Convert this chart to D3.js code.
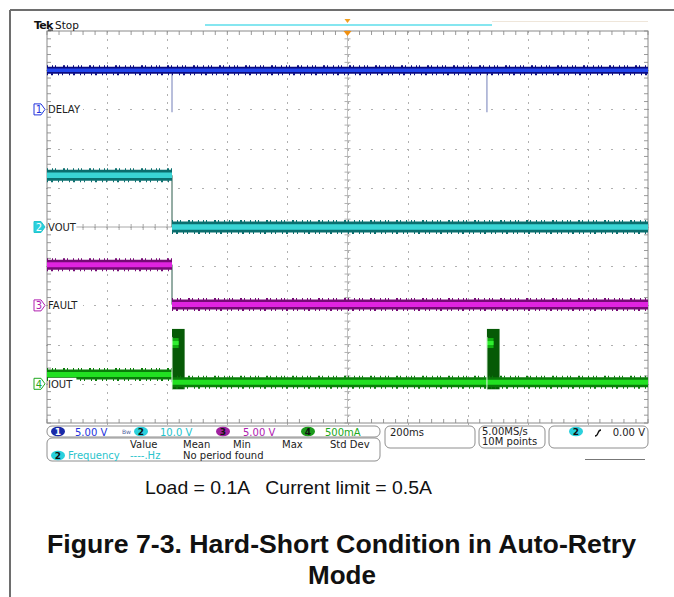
<!DOCTYPE html>
<html>
<head>
<meta charset="utf-8">
<script src="https://cdn.jsdelivr.net/npm/d3@7/dist/d3.min.js"></script>
<style>
  html, body { margin: 0; padding: 0; background: #fff; }
  svg { display: block; }
</style>
</head>
<body>
<svg id="chart" width="674" height="597"></svg>
<script>
// ---- Channel setup (Tek scope capture, 200 ms/div, 10 divisions) ----
const channelNames = ["DELAY", "VOUT", "FAULT", "IOUT"];
const channelIds = ["1", "2", "3", "4"];
const scaleLabels = ["5.00 V", "10.0 V", "5.00 V", "500mA"];
const unitsPerDiv = [5, 10, 5, 0.5];          // V/div, V/div, V/div, A/div
const refDivs = [3, 0, -2, -4];               // ground marker position in divisions from centre

// ---- Trace values (time in s, trigger at 0) ----
const delayTimes = [-1, 1];
const delayValues = [5.0, 5.0];
const delayGlitchTimes = [-0.584, 0.464];
const delayGlitchMin = -0.35;

const voutTimes = [-1, -0.584, -0.584, 1];
const voutValues = [13.2, 13.2, 0.0, 0.0];

const faultTimes = [-1, -0.584, -0.584, 1];
const faultValues = [5.2, 5.2, 0.1, 0.1];

const ioutTimes = [-1, -0.584, -0.584, 1];
const ioutValues = [0.12, 0.12, 0.02, 0.02];

// auto-retry current pulses
const retryStarts = [-0.584, 0.464];
const retryEnds = [-0.542, 0.506];
const retryPeak = 0.70;
const retryMin = -0.07;
const retryLimit = 0.52;

// ---- Readout texts ----
const measureHeaders = ["Value", "Mean", "Min", "Max", "Std Dev"];
const timebaseLabel = "200ms";
const sampleLabels = ["5.00MS/s", "10M points"];
const triggerLevel = "0.00 V";
const noteText = "Load = 0.1A   Current limit = 0.5A";
const titleLines = ["Figure 7-3. Hard-Short Condition in Auto-Retry", "Mode"];

const colors = {
  dark: ["#0a0a80", "#0a6e6e", "#760a76", "#0a7c0a"],
  bright: ["#2246ec", "#3ad4d4", "#e024e0", "#22e022"],
  label: ["#2233dd", "#22c4cc", "#b020b0", "#20a820"],
  pill: ["#1a2aa8", "#2ad0dc", "#a020a0", "#1c9a1c"]
};

const svg = d3.select("#chart");
svg.append("rect").attr("width", 674).attr("height", 597).attr("fill", "#fff");

// page frame lines
svg.append("line").attr("x1", 10).attr("x2", 674).attr("y1", 10).attr("y2", 10)
  .attr("stroke", "#6e6e6e").attr("stroke-width", 2);
svg.append("line").attr("x1", 10).attr("x2", 10).attr("y1", 10).attr("y2", 597)
  .attr("stroke", "#6e6e6e").attr("stroke-width", 2);

// ---- Scales ----
const gL = 47, gR = 648, gT = 31, gB = 423;
const x = d3.scaleLinear().domain([-1, 1]).range([gL, gR]);
const yDiv = d3.scaleLinear().domain([-5, 5]).range([gB, gT]);
const yCh = i => v => yDiv(refDivs[i] + v / unitsPerDiv[i]);

// ---- Graticule ----
const grid = svg.append("g");
const gridColor = "#b0b0b0";
const majorT = d3.range(-1, 1.0001, 0.2);
const minorT = d3.range(-1, 1.0001, 0.04);
const majorD = d3.range(-5, 5.0001, 1);
const minorD = d3.range(-5, 5.0001, 0.2);

// dotted grid: dots at each minor subdivision along every major line
majorT.slice(1, -1).forEach(t => {
  minorD.forEach(d => {
    grid.append("rect").attr("x", Math.round(x(t))).attr("y", Math.round(yDiv(d)))
      .attr("width", 1).attr("height", 2).attr("fill", gridColor);
  });
});
majorD.slice(1, -1).forEach(d => {
  minorT.forEach(t => {
    grid.append("rect").attr("x", Math.round(x(t)) - 1).attr("y", Math.round(yDiv(d)))
      .attr("width", 2).attr("height", 1).attr("fill", gridColor);
  });
});

// centre crosshair with minor ticks
grid.append("line").attr("x1", gL).attr("x2", gR).attr("y1", yDiv(0)).attr("y2", yDiv(0))
  .attr("stroke", "#a8a8a8").attr("stroke-width", 1);
grid.append("line").attr("x1", x(0)).attr("x2", x(0)).attr("y1", gT).attr("y2", gB)
  .attr("stroke", "#c4c4c4").attr("stroke-width", 1);
minorT.forEach(t => grid.append("line").attr("x1", x(t)).attr("x2", x(t))
  .attr("y1", yDiv(0) - 3).attr("y2", yDiv(0) + 3).attr("stroke", "#a8a8a8"));
minorD.forEach(d => grid.append("line").attr("x1", x(0) - 3).attr("x2", x(0) + 3)
  .attr("y1", yDiv(d)).attr("y2", yDiv(d)).attr("stroke", "#b0b0b0"));

// edge ticks
minorT.forEach(t => {
  grid.append("line").attr("x1", x(t)).attr("x2", x(t)).attr("y1", gT).attr("y2", gT + 4).attr("stroke", "#9a9a9a");
  grid.append("line").attr("x1", x(t)).attr("x2", x(t)).attr("y1", gB - 4).attr("y2", gB).attr("stroke", "#9a9a9a");
});
minorD.forEach(d => {
  grid.append("line").attr("x1", gL).attr("x2", gL + 4).attr("y1", yDiv(d)).attr("y2", yDiv(d)).attr("stroke", "#9a9a9a");
  grid.append("line").attr("x1", gR - 4).attr("x2", gR).attr("y1", yDiv(d)).attr("y2", yDiv(d)).attr("stroke", "#9a9a9a");
});
grid.append("rect").attr("x", gL).attr("y", gT).attr("width", gR - gL).attr("height", gB - gT)
  .attr("fill", "none").attr("stroke", "#8a8a8a").attr("stroke-width", 1);

// ---- Header ----
svg.append("text").attr("x", 34).attr("y", 29).attr("font-family", "DejaVu Sans").attr("font-weight", "bold")
  .attr("font-size", 11).attr("letter-spacing", -0.8).attr("fill", "#111").text("Tek");
svg.append("line").attr("x1", 48).attr("x2", 53).attr("y1", 30).attr("y2", 30).attr("stroke", "#111");
svg.append("text").attr("x", 55).attr("y", 29).attr("font-family", "DejaVu Sans")
  .attr("font-size", 10.5).attr("fill", "#111").text("Stop");
svg.append("line").attr("x1", 205).attr("x2", 492).attr("y1", 25).attr("y2", 25)
  .attr("stroke", "#86e6f0").attr("stroke-width", 2);
svg.append("line").attr("x1", 492).attr("x2", 648).attr("y1", 21.5).attr("y2", 21.5)
  .attr("stroke", "#efe6da").attr("stroke-width", 1);
svg.append("path").attr("d", `M${x(0) - 3},19 h6 l-3,4 Z`).attr("fill", "#f0a020");
svg.append("path").attr("d", `M${x(0) - 4},${gT} h8 l-4,5 Z`).attr("fill", "#f09010");

// ---- Traces ----
const traces = svg.append("g");

function drawBand(i, t0, t1, v, width) {
  const y = yCh(i)(v);
  const g = traces.append("g");
  g.append("line").attr("x1", x(t0)).attr("x2", x(t1)).attr("y1", y).attr("y2", y)
    .attr("stroke", colors.dark[i]).attr("stroke-width", width);
  g.append("line").attr("x1", x(t0)).attr("x2", x(t1)).attr("y1", y).attr("y2", y)
    .attr("stroke", colors.bright[i]).attr("stroke-width", width * 0.5);
  // noise fringe along both edges
  [-1, 1].forEach(s => {
    g.append("line").attr("x1", x(t0)).attr("x2", x(t1))
      .attr("y1", y + s * (width / 2 + 0.5)).attr("y2", y + s * (width / 2 + 0.5))
      .attr("stroke", colors.dark[i]).attr("stroke-width", 2)
      .attr("stroke-dasharray", s < 0 ? "1,4,1,2,1,7,2,2,1,5" : "1,3,2,5,1,3,1,6");
  });
}

function drawStepTrace(i, times, values, width) {
  const yc = yCh(i);
  for (let k = 0; k < times.length - 1; k++) {
    if (times[k] === times[k + 1]) {
      traces.append("line").attr("x1", x(times[k])).attr("x2", x(times[k]))
        .attr("y1", yc(values[k])).attr("y2", yc(values[k + 1]))
        .attr("stroke", "#2a5a4a").attr("stroke-width", 1);
    }
  }
  for (let k = 0; k < times.length - 1; k++) {
    if (times[k] !== times[k + 1]) drawBand(i, times[k], times[k + 1], values[k], width);
  }
}

// CH1 glitches
delayGlitchTimes.forEach(t => {
  traces.append("line").attr("x1", x(t)).attr("x2", x(t))
    .attr("y1", yCh(0)(delayValues[0])).attr("y2", yCh(0)(delayGlitchMin))
    .attr("stroke", "#8a94c4").attr("stroke-width", 1.2);
});
drawStepTrace(0, delayTimes, delayValues, 7);
drawStepTrace(1, voutTimes, voutValues, 11);
drawStepTrace(2, faultTimes, faultValues, 10);

// CH4 retry pulses
retryStarts.forEach((t0, k) => {
  const yc = yCh(3);
  traces.append("rect").attr("x", x(t0)).attr("y", yc(retryPeak))
    .attr("width", x(retryEnds[k]) - x(t0)).attr("height", yc(retryMin) - yc(retryPeak))
    .attr("fill", "#065a06");
});
drawStepTrace(3, ioutTimes, ioutValues, 10);
retryStarts.forEach((t0, k) => {
  const yc = yCh(3);
  traces.append("line").attr("x1", x(t0)).attr("x2", x(retryEnds[k]) - 6)
    .attr("y1", yc(retryLimit)).attr("y2", yc(retryLimit))
    .attr("stroke", "#10b010").attr("stroke-width", 10);
  traces.append("line").attr("x1", x(t0)).attr("x2", x(retryEnds[k]) - 6)
    .attr("y1", yc(retryLimit)).attr("y2", yc(retryLimit))
    .attr("stroke", "#30ee30").attr("stroke-width", 4);
  traces.append("line").attr("x1", x(t0)).attr("x2", x(t0))
    .attr("y1", yc(retryPeak) + 8).attr("y2", yc(retryMin))
    .attr("stroke", "#e8f8e8").attr("stroke-width", 1);
});

// ---- Channel ground markers and names ----
const markers = svg.append("g");
channelNames.forEach((name, i) => {
  const y = yDiv(refDivs[i]);
  const filled = i === 1;
  markers.append("path").attr("d", `M34,${y - 5.5} h7 l4,5.5 l-4,5.5 h-7 Z`)
    .attr("fill", filled ? colors.pill[1] : "#fff").attr("stroke", colors.label[i]).attr("stroke-width", 1);
  markers.append("text").attr("x", 39).attr("y", y + 4).attr("text-anchor", "middle")
    .attr("font-family", "DejaVu Sans").attr("font-size", 10)
    .attr("fill", filled ? "#fff" : colors.label[i]).text(channelIds[i]);
  markers.append("rect").attr("x", 48).attr("y", y - 6).attr("width", name.length * 6.6 + 2).attr("height", 12).attr("fill", "#fff");
  markers.append("text").attr("x", 48).attr("y", y + 4).attr("font-family", "DejaVu Sans")
    .attr("font-size", 10).attr("fill", "#222").text(name);
});

// ---- Readout bar ----
const bar = svg.append("g").attr("font-family", "DejaVu Sans").attr("font-size", 10);
const boxStroke = "#8e8e8e";
function box(x0, y0, w, h) {
  bar.append("rect").attr("x", x0).attr("y", y0).attr("width", w).attr("height", h)
    .attr("rx", 5).attr("fill", "#fff").attr("stroke", boxStroke).attr("stroke-width", 1);
}
box(47, 438, 333, 23);
box(47, 426, 333, 11);
box(385, 426, 90, 22);
box(479, 426, 66, 22);
box(549, 426, 99, 22);

function pill(cx, cy, i, label) {
  bar.append("ellipse").attr("cx", cx).attr("cy", cy).attr("rx", 7).attr("ry", 4.8).attr("fill", colors.pill[i]);
  bar.append("text").attr("x", cx).attr("y", cy + 3.4).attr("text-anchor", "middle").attr("font-weight", "bold")
    .attr("font-size", 9).attr("fill", i === 0 ? "#fff" : "#111").text(label);
}
const pillX = [58, 141, 223, 308];
const scaleX = [75, 160, 243, 325];
channelIds.forEach((id, i) => {
  pill(pillX[i], 431.5, i, id);
  bar.append("text").attr("x", scaleX[i]).attr("y", 435.5).attr("fill", colors.label[i]).text(scaleLabels[i]);
});
bar.append("text").attr("x", 122).attr("y", 434).attr("font-size", 6).attr("fill", "#5060a0").text("Bw");

const headerX = [130, 183, 233, 282, 330];
measureHeaders.forEach((h, k) => {
  bar.append("text").attr("x", headerX[k]).attr("y", 448).attr("fill", "#222").text(h);
});
pill(58, 455.5, 1, "2");
bar.append("text").attr("x", 68).attr("y", 459).attr("fill", "#2ac4cc").text("Frequency");
bar.append("text").attr("x", 130).attr("y", 459).attr("fill", "#2ac4cc").text("----.Hz");
bar.append("text").attr("x", 183).attr("y", 459).attr("fill", "#222").text("No period found");

bar.append("text").attr("x", 390).attr("y", 436).attr("fill", "#222").text(timebaseLabel);
bar.append("text").attr("x", 482).attr("y", 435).attr("fill", "#222").text(sampleLabels[0]);
bar.append("text").attr("x", 482).attr("y", 444.5).attr("fill", "#222").text(sampleLabels[1]);
pill(576, 431.5, 1, "2");
bar.append("path").attr("d", "M595,436 q2,0 3,-3 t3,-3").attr("fill", "none").attr("stroke", "#111").attr("stroke-width", 1.3);
bar.append("text").attr("x", 645).attr("y", 435.5).attr("text-anchor", "end").attr("fill", "#222").text(triggerLevel);
bar.append("line").attr("x1", 585).attr("x2", 645).attr("y1", 459.5).attr("y2", 459.5).attr("stroke", "#777");

// ---- Caption ----
svg.append("text").attr("x", 145).attr("y", 494).attr("font-family", "Liberation Sans, Arial, sans-serif")
  .attr("font-size", 19).attr("fill", "#111").attr("xml:space", "preserve").style("white-space", "pre")
  .attr("textLength", 287).attr("lengthAdjust", "spacingAndGlyphs")
  .text(noteText);
svg.append("text").attr("x", 47).attr("y", 553).attr("font-family", "Liberation Sans, Arial, sans-serif")
  .attr("font-weight", "bold").attr("font-size", 26).attr("fill", "#111")
  .attr("textLength", 589).attr("lengthAdjust", "spacingAndGlyphs").text(titleLines[0]);
svg.append("text").attr("x", 342).attr("y", 584).attr("text-anchor", "middle")
  .attr("font-family", "Liberation Sans, Arial, sans-serif")
  .attr("font-weight", "bold").attr("font-size", 26).attr("fill", "#111").text(titleLines[1]);
</script>
</body>
</html>
